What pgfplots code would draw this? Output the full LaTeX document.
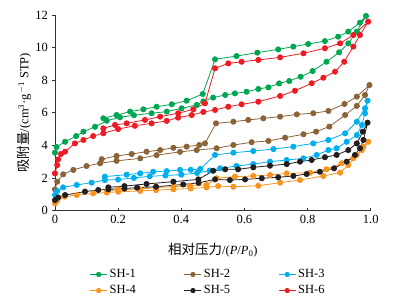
\documentclass[border=0pt]{standalone}
\usepackage{pgfplots}
\pgfplotsset{compat=1.18}
\usepackage{fontspec}
\setmainfont{Liberation Serif}
\newfontfamily\cjk[Scale=1.08]{Noto Sans CJK SC}
\definecolor{cA}{HTML}{00A651}
\definecolor{cB}{HTML}{8C6239}
\definecolor{cC}{HTML}{00AEEF}
\definecolor{cD}{HTML}{F7941E}
\definecolor{cE}{HTML}{231F20}
\definecolor{cF}{HTML}{ED1C24}
\begin{document}
\fontsize{12}{14}\selectfont
\begin{tikzpicture}
\useasboundingbox (-55pt,-90.5pt) rectangle (348pt,210.5pt);
\begin{axis}[
  at={(0pt,0pt)}, anchor=south west,
  width=315.7pt, height=195.5pt, scale only axis,
  xmin=0, xmax=1, ymin=0, ymax=12,
  axis lines*=left,
  axis line style={black!80, line width=0.6pt},
  xtick={0,0.2,0.4,0.6,0.8,1.0},
  xticklabels={0,0.2,0.4,0.6,0.8,1.0},
  ytick={0,2,4,6,8,10,12},
  x tick style={black!80, line width=0.6pt}, xtick align=inside,
  y tick style={black!80, line width=0.6pt}, ytick align=outside,
  major tick length=3pt,
  tick label style={font=\fontsize{12.5}{14}\selectfont},
  /pgf/number format/assume math mode=true,
  xlabel={{\cjk 相对压力}/(\textit{P}/\textit{P}\textsubscript{0})},
  ylabel={{\cjk 吸附量}/(cm\textsuperscript{3}·g\textsuperscript{$-$1} STP)},
  label style={font=\fontsize{12.5}{14}\selectfont},
  xlabel style={yshift=-12pt},
  ylabel style={yshift=-4pt},
  clip=false,
  every axis plot/.append style={line width=0.8pt, mark=*, mark size=2.6pt},
  legend columns=3,
  legend style={at={(0.485,-0.28)}, anchor=north, draw=none, fill=none,
    font=\fontsize{12.5}{14}\selectfont, row sep=2pt,
    /tikz/every even column/.append style={column sep=46pt}},
  legend cell align=left,
  legend image post style={mark size=2.2pt},
]
\addplot[color=cA, mark options={fill=cA}] coordinates {
(0,3.55)(0.005,3.9)(0.032,4.22)(0.067,4.57)(0.09,4.84)(0.127,5.14)(0.164,5.51)(0.206,5.72)(0.25,5.85)(0.306,5.97)(0.354,6.07)(0.401,6.27)(0.449,6.48)(0.47,6.7)(0.501,6.93)(0.539,7.09)(0.57,7.19)(0.607,7.29)(0.644,7.46)(0.676,7.56)(0.71,7.8)(0.742,7.95)(0.778,8.21)(0.816,8.56)(0.86,9.13)(0.9,9.71)(0.929,10.26)(0.956,10.98)(0.985,11.94)
(0.966,11.53)(0.929,10.98)(0.897,10.67)(0.855,10.4)(0.802,10.22)(0.755,10.06)(0.707,9.89)(0.641,9.69)(0.575,9.48)(0.507,9.28)(0.468,7.15)(0.417,6.74)(0.37,6.52)(0.322,6.37)(0.28,6.21)(0.238,6.07)(0.195,5.86)(0.153,5.66)};
\addlegendentry{SH-1}
\addplot[color=cB, mark options={fill=cB}] coordinates {
(0,1.3)(0.007,1.77)(0.026,2.22)(0.058,2.49)(0.1,2.73)(0.143,2.9)(0.195,3.05)(0.27,3.2)(0.322,3.4)(0.396,3.6)(0.449,3.71)(0.512,3.82)(0.565,4.02)(0.623,4.19)(0.676,4.27)(0.729,4.47)(0.787,4.68)(0.827,4.84)(0.869,5.15)(0.919,5.86)(0.956,6.42)(0.982,7.09)(0.996,7.7)
(0.956,6.99)(0.917,6.54)(0.866,6.11)(0.818,5.97)(0.766,5.9)(0.713,5.76)(0.66,5.66)(0.612,5.56)(0.565,5.45)(0.51,5.35)(0.475,4.12)(0.457,4.02)(0.417,3.92)(0.375,3.85)(0.333,3.71)(0.29,3.61)(0.243,3.47)(0.195,3.35)(0.148,3.15)};
\addlegendentry{SH-2}
\addplot[color=cC, mark options={fill=cC}] coordinates {
(0,0.95)(0.007,1.2)(0.026,1.42)(0.069,1.57)(0.116,1.71)(0.158,1.87)(0.2,1.9)(0.25,2.0)(0.3,2.1)(0.35,2.15)(0.4,2.2)(0.45,2.3)(0.49,2.45)(0.523,2.59)(0.575,2.73)(0.628,2.85)(0.681,3.0)(0.734,3.1)(0.787,3.2)(0.829,3.41)(0.866,3.71)(0.892,3.82)(0.924,4.22)(0.956,4.63)(0.972,5.25)(0.982,5.97)(0.99,6.74)
(0.982,6.27)(0.956,5.45)(0.919,4.74)(0.866,4.33)(0.818,4.12)(0.755,3.92)(0.692,3.77)(0.628,3.65)(0.565,3.55)(0.507,3.41)(0.46,2.55)(0.43,2.5)(0.396,2.49)(0.354,2.42)(0.311,2.38)(0.27,2.28)(0.227,2.2)(0.158,2.08)};
\addlegendentry{SH-3}
\addplot[color=cD, mark options={fill=cD}] coordinates {
(0,0.44)(0.007,0.6)(0.03,0.85)(0.069,0.95)(0.121,1.05)(0.164,1.1)(0.2,1.15)(0.27,1.2)(0.32,1.25)(0.375,1.3)(0.43,1.35)(0.48,1.42)(0.517,1.5)(0.565,1.46)(0.644,1.52)(0.713,1.71)(0.776,1.87)(0.85,2.12)(0.903,2.32)(0.929,2.79)(0.956,3.41)(0.977,3.92)(0.992,4.22)
(0.972,3.71)(0.945,3.2)(0.908,2.9)(0.86,2.53)(0.808,2.32)(0.734,2.28)(0.681,2.18)(0.628,2.12)(0.57,2.08)(0.512,1.98)(0.48,1.57)(0.428,1.5)(0.375,1.46)(0.322,1.42)(0.27,1.3)(0.2,1.3)(0.164,1.16)};
\addlegendentry{SH-4}
\addplot[color=cE, mark options={fill=cE}] coordinates {
(0,0.64)(0.01,0.8)(0.032,0.95)(0.095,1.16)(0.137,1.26)(0.169,1.3)(0.22,1.35)(0.26,1.4)(0.32,1.46)(0.406,1.6)(0.455,1.7)(0.507,1.91)(0.554,1.87)(0.602,1.91)(0.655,1.98)(0.707,2.04)(0.755,2.12)(0.797,2.24)(0.839,2.38)(0.884,2.59)(0.924,3.0)(0.95,3.41)(0.966,3.82)(0.977,4.33)(0.99,5.39)
(0.975,4.84)(0.956,4.12)(0.929,3.71)(0.892,3.41)(0.855,3.27)(0.813,3.1)(0.776,3.0)(0.734,2.85)(0.681,2.75)(0.628,2.65)(0.58,2.53)(0.539,2.53)(0.501,2.44)(0.454,1.91)(0.375,1.77)(0.29,1.63)(0.22,1.5)(0.169,1.42)};
\addlegendentry{SH-5}
\addplot[color=cF, mark options={fill=cF}] coordinates {
(0,2.28)(0.007,2.79)(0.01,3.14)(0.019,3.47)(0.032,3.61)(0.063,4.12)(0.09,4.33)(0.121,4.57)(0.153,4.74)(0.2,5.0)(0.253,5.2)(0.306,5.35)(0.354,5.5)(0.39,5.7)(0.433,5.86)(0.47,6.05)(0.507,6.17)(0.549,6.37)(0.591,6.52)(0.644,6.68)(0.713,7.03)(0.76,7.35)(0.813,7.81)(0.85,8.15)(0.887,8.52)(0.916,9.13)(0.945,10.06)(0.966,10.77)(0.992,11.59)
(0.945,10.77)(0.903,10.26)(0.855,9.96)(0.787,9.65)(0.713,9.4)(0.644,9.24)(0.591,9.13)(0.549,9.03)(0.507,8.73)(0.475,6.58)(0.438,6.21)(0.39,5.97)(0.333,5.76)(0.285,5.56)(0.227,5.35)(0.19,5.25)(0.153,5.04)};
\addlegendentry{SH-6}
\end{axis}
\end{tikzpicture}
\end{document}
